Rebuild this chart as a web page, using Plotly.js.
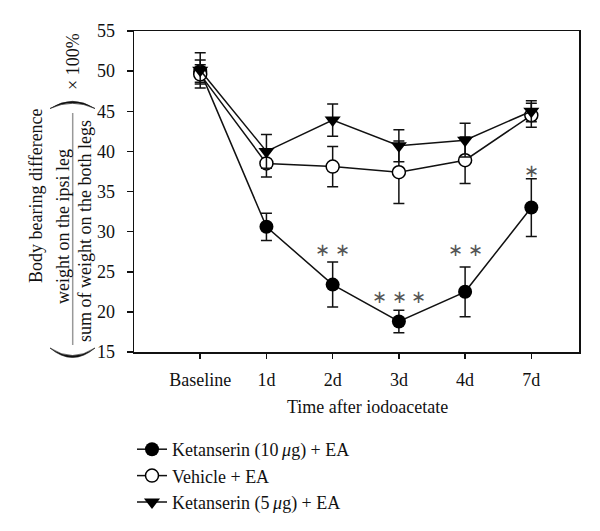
<!DOCTYPE html>
<html><head><meta charset="utf-8">
<script src="https://cdn.plot.ly/plotly-3.0.1.min.js"></script>
<style>html,body{margin:0;padding:0;background:#fff}</style>
</head><body><div id="chart" style="width:600px;height:531px"></div>
<script>
const categories = ['Baseline', '1d', '2d', '3d', '4d', '7d'];
const ket10 = [50.0, 30.6, 23.4, 18.8, 22.5, 33.0];
const ket10Err = [1.4, 1.7, 2.8, 1.4, 3.1, 3.6];
const vehicle = [49.6, 38.5, 38.1, 37.4, 38.9, 44.5];
const vehicleErr = [1.2, 1.7, 2.5, 3.9, 2.9, 1.5];
const ket5 = [50.1, 40.0, 43.9, 40.7, 41.4, 45.0];
const ket5Err = [2.2, 2.1, 2.0, 2.0, 2.1, 1.3];
const seriesNames = ['Ketanserin (10\u2009<i>μ</i>g) + EA', 'Vehicle + EA', 'Ketanserin (5\u2009<i>μ</i>g) + EA'];
const starLabels = ['', '', '∗ ∗', '∗ ∗ ∗', '∗ ∗', '∗'];
const starY = [0, 0, 27.7, 21.85, 27.7, 37.6];

const FONT = '"Liberation Serif", "Times New Roman", serif';
const L = 134, R = 579, T = 31, B = 352;
const px = x => (x - L) / (R - L);
const py = y => (B - y) / (B - T);

function errStyle(arr) {
  return {type: 'data', array: arr, visible: true, color: '#111', thickness: 1.5, width: 5.5};
}
const traces = [
  {x: categories, y: ket10, name: seriesNames[0], type: 'scatter', mode: 'lines+markers',
   line: {color: '#111', width: 1.5}, marker: {symbol: 'circle', size: 14, color: '#000'},
   error_y: errStyle(ket10Err)},
  {x: categories, y: vehicle, name: seriesNames[1], type: 'scatter', mode: 'lines+markers',
   line: {color: '#111', width: 1.5}, marker: {symbol: 'circle', size: 13, color: '#fff', line: {color: '#000', width: 1.5}},
   error_y: errStyle(vehicleErr)},
  {x: categories, y: ket5, name: seriesNames[2], type: 'scatter', mode: 'lines+markers',
   line: {color: '#111', width: 1.5}, marker: {symbol: 'triangle-down', size: 14, color: '#000'},
   error_y: errStyle(ket5Err)}
];

const annotations = [];
categories.forEach((c, i) => {
  if (starLabels[i]) annotations.push({x: c, y: starY[i], xref: 'x', yref: 'y', text: starLabels[i],
    showarrow: false, xanchor: 'center', yanchor: 'middle', font: {family: FONT, size: 18, color: '#555'}});
});
const titleFont = {family: FONT, size: 18, color: '#111'};
annotations.push(
  {x: px(367), y: py(407), xref: 'paper', yref: 'paper', text: 'Time after iodoacetate', showarrow: false,
   xanchor: 'center', yanchor: 'middle', font: titleFont},
  {x: px(36), y: py(196), xref: 'paper', yref: 'paper', text: 'Body bearing difference', showarrow: false,
   textangle: -90, xanchor: 'center', yanchor: 'middle', font: titleFont},
  {x: px(63), y: py(227), xref: 'paper', yref: 'paper', text: 'weight on the ipsi leg', showarrow: false,
   textangle: -90, xanchor: 'center', yanchor: 'middle', font: titleFont},
  {x: px(85), y: py(231), xref: 'paper', yref: 'paper', text: 'sum of weight on the both legs', showarrow: false,
   textangle: -90, xanchor: 'center', yanchor: 'middle', font: titleFont},
  {x: px(73), y: py(62), xref: 'paper', yref: 'paper', text: '× 100%', showarrow: false,
   textangle: -90, xanchor: 'center', yanchor: 'middle', font: titleFont}
);

// big bracket arcs (crescent paths) drawn in pixel space converted to paper units
function crescent(x0, x1, yEnd, yOuter, yInner) {
  const xm = (x0 + x1) / 2;
  const cOut = (4 * yOuter - 2 * yEnd) / 2, cIn = (4 * yInner - 2 * yEnd) / 2;
  const P = (x, y) => px(x) + ',' + py(y);
  return 'M' + P(x0, yEnd) + ' Q' + P(xm, cOut) + ' ' + P(x1, yEnd) + ' Q' + P(xm, cIn) + ' ' + P(x0, yEnd) + ' Z';
}

const layout = {
  width: 600, height: 531,
  margin: {l: L, r: 600 - R, t: T, b: 531 - B, autoexpand: false},
  paper_bgcolor: '#fff', plot_bgcolor: '#fff',
  font: {family: FONT, size: 18, color: '#111'},
  showlegend: true,
  legend: {x: px(132), y: py(431), xanchor: 'left', yanchor: 'top', font: {family: FONT, size: 18, color: '#111'},
    bgcolor: 'rgba(0,0,0,0)', tracegroupgap: 0, traceorder: 'normal'},
  xaxis: {type: 'category', range: [-1, 5.72], showline: true, linecolor: '#111', linewidth: 1.5, mirror: true,
    ticks: 'outside', ticklen: 5, tickwidth: 1.5, tickcolor: '#111', showgrid: false, zeroline: false,
    ticklabelstandoff: 6, tickfont: {family: FONT, size: 18, color: '#111'}},
  yaxis: {range: [15, 55], dtick: 5, tick0: 15, showline: true, linecolor: '#111', linewidth: 1.5, mirror: true,
    ticks: 'outside', ticklen: 6, tickwidth: 1.5, tickcolor: '#111', showgrid: false, zeroline: false,
    ticklabelstandoff: 8, tickfont: {family: FONT, size: 18, color: '#111'}},
  annotations: annotations,
  shapes: [
    {type: 'line', xref: 'paper', yref: 'paper', x0: px(72.7), x1: px(72.7), y0: py(113), y1: py(345),
     line: {color: '#999', width: 1.5}},
    {type: 'path', xref: 'paper', yref: 'paper', path: crescent(50, 95, 108.5, 101.3, 103.3),
     fillcolor: '#111', line: {color: '#111', width: 0.6}},
    {type: 'path', xref: 'paper', yref: 'paper', path: crescent(50, 95, 348, 357.5, 355.5),
     fillcolor: '#111', line: {color: '#111', width: 0.6}}
  ]
};
Plotly.newPlot('chart', traces, layout, {displayModeBar: false, staticPlot: true});
</script></body></html>
